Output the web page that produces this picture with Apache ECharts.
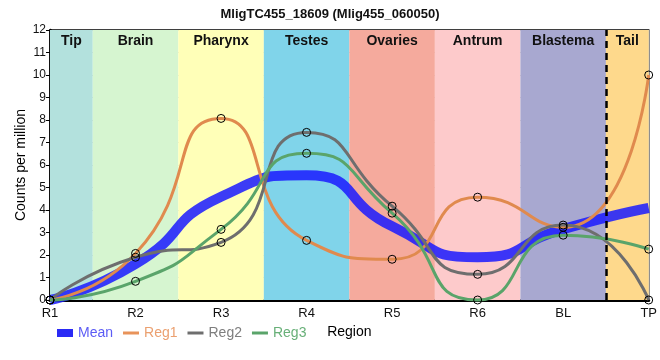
<!DOCTYPE html>
<html>
<head>
<meta charset="utf-8">
<script src="https://cdn.jsdelivr.net/npm/echarts@6/dist/echarts.min.js"></script>
<style>html,body{margin:0;padding:0;background:#fff;}#c{width:660px;height:360px;}</style>
</head>
<body>
<div id="c"></div>
<script>
// ---- data ----
var tickLabels = ['R1', 'R2', 'R3', 'R4', 'R5', 'R6', 'BL', 'TP'];
var positions = [0, 1, 2, 3, 4, 5, 6, 7];
var meanVals = [0, 1.60, 4.59, 5.54, 3.28, 1.90, 3.15, 4.09];
var reg1Vals = [0, 2.07, 8.07, 2.65, 1.81, 4.57, 3.23, 10.0];
var reg2Vals = [0, 1.90, 2.56, 7.45, 4.17, 1.14, 3.33, 0];
var reg3Vals = [0, 0.83, 3.14, 6.52, 3.86, 0, 2.88, 2.26];
var bandNames = ['Tip', 'Brain', 'Pharynx', 'Testes', 'Ovaries', 'Antrum', 'Blastema', 'Tail'];
var bandFrom = [0, 0.5, 1.5, 2.5, 3.5, 4.5, 5.5, 6.5];
var bandTo = [0.5, 1.5, 2.5, 3.5, 4.5, 5.5, 6.5, 7];
var tailStart = 6.5;

// ---- styles ----
var bandColors = ['#b3e1dd', '#d6f5d0', '#ffffb8', '#80d4ea', '#f5aa9d', '#fdcacb', '#a8a8d0', '#fed98c'];
var FONT = 'Liberation Sans, Arial, sans-serif';
var SMOOTH = 0.6;

function pairs(vals) {
  return positions.map(function (x, i) { return [x, vals[i]]; });
}

var bandData = bandNames.map(function (n, i) {
  return [
    { name: n, xAxis: bandFrom[i], itemStyle: { color: bandColors[i], opacity: 1 } },
    { xAxis: bandTo[i] }
  ];
});

function regSeries(name, vals, color) {
  return {
    name: name, type: 'line', data: pairs(vals), smooth: SMOOTH, z: 3,
    lineStyle: { color: color, width: 3 },
    itemStyle: { color: 'rgba(0,0,0,0)', borderColor: '#000', borderWidth: 1 },
    symbol: 'circle', symbolSize: 8, showSymbol: true,
    emphasis: { disabled: true }, clip: false
  };
}

var chart = echarts.init(document.getElementById('c'), null, { renderer: 'canvas' });
chart.setOption({
  animation: false,
  textStyle: { fontFamily: FONT },
  title: {
    text: 'MligTC455_18609 (Mlig455_060050)', left: 'center', top: 3,
    textStyle: { fontSize: 13, fontWeight: 'bold', color: '#111', fontFamily: FONT }
  },
  grid: { left: 50, right: 9, top: 30, bottom: 60, show: true, borderColor: '#000', borderWidth: 1.5, backgroundColor: 'transparent' },
  legend: {
    left: 52, top: 321, itemWidth: 16, itemHeight: 8, itemGap: 10,
    textStyle: { fontSize: 14, fontFamily: FONT },
    data: [
      { name: 'Mean', icon: 'path://M0,0H16V8H0Z', itemStyle: { color: '#2a2af5', borderWidth: 0 }, textStyle: { color: '#5c5cf5' } },
      { name: 'Reg1', icon: 'path://M0,0H16V3H0Z', itemStyle: { color: '#e8935a', borderWidth: 0 }, textStyle: { color: '#eba070' } },
      { name: 'Reg2', icon: 'path://M0,0H16V3H0Z', itemStyle: { color: '#6e6e6e', borderWidth: 0 }, textStyle: { color: '#7e7e7e' } },
      { name: 'Reg3', icon: 'path://M0,0H16V3H0Z', itemStyle: { color: '#5aa46a', borderWidth: 0 }, textStyle: { color: '#68b078' } }
    ]
  },
  xAxis: {
    type: 'value', min: 0, max: 7, interval: 1,
    name: 'Region', nameLocation: 'middle', nameGap: 25, nameMoveOverlap: false,
    nameTextStyle: { fontSize: 14, color: '#000', fontFamily: FONT },
    axisLine: { show: true, lineStyle: { color: '#000', width: 3 } },
    axisTick: { show: false },
    axisLabel: { color: '#111', fontSize: 13, margin: 7, fontFamily: FONT,
      formatter: function (v) { return tickLabels[Math.round(v)] || ''; } },
    splitLine: { show: true, lineStyle: { color: '#c8c8c8', width: 1 } }
  },
  yAxis: {
    type: 'value', min: 0, max: 12, interval: 1,
    name: 'Counts per million', nameLocation: 'middle', nameGap: 22, nameMoveOverlap: false,
    nameTextStyle: { fontSize: 14, color: '#000', fontFamily: FONT },
    axisLine: { show: true, lineStyle: { color: '#000', width: 2.5 } },
    axisTick: { show: true, length: 4, lineStyle: { color: '#000', width: 1 } },
    axisLabel: { color: '#111', fontSize: 12, margin: 4, fontFamily: FONT },
    splitLine: { show: true, lineStyle: { color: '#c8c8c8', width: 1 } }
  },
  series: [
    {
      name: 'bands', type: 'line', data: [], z: -1, silent: true,
      markArea: {
        silent: true,
        label: { show: true, position: 'insideTop', distance: 4, fontSize: 14, fontWeight: 'bold', color: '#111', fontFamily: FONT },
        data: bandData
      },
      markLine: {
        silent: true, symbol: 'none',
        lineStyle: { color: '#000', width: 2.5, type: [7, 5] },
        label: { show: false },
        data: [{ xAxis: tailStart }]
      }
    },
    {
      name: 'Mean', type: 'line', data: pairs(meanVals), smooth: SMOOTH, z: 2,
      showSymbol: false, symbol: 'none',
      lineStyle: { color: '#1a1aff', width: 10, opacity: 0.85 },
      itemStyle: { color: '#2a2af5' },
      emphasis: { disabled: true }
    },
    regSeries('Reg1', reg1Vals, '#e08a4e'),
    regSeries('Reg2', reg2Vals, '#6e6e6e'),
    regSeries('Reg3', reg3Vals, '#5aa46a')
  ]
});
</script>
</body>
</html>
